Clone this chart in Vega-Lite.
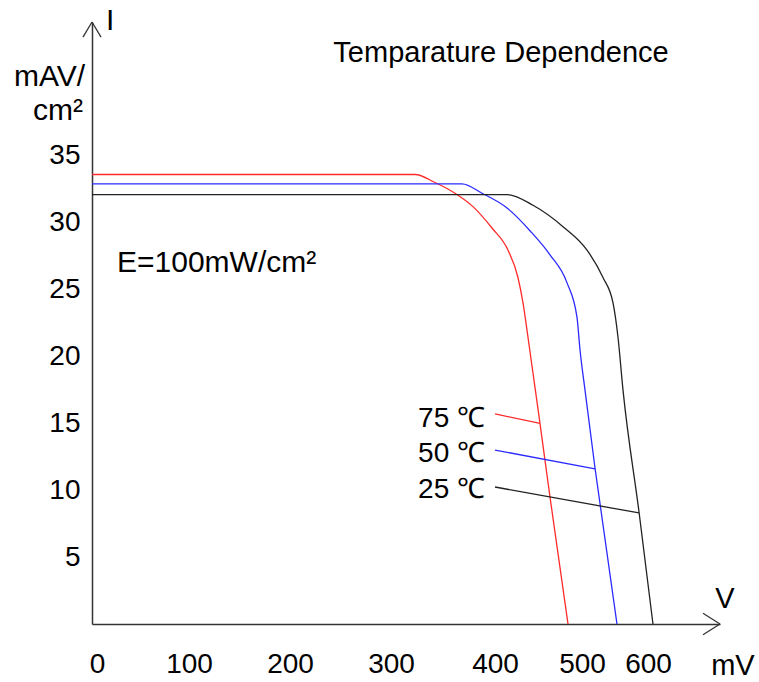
{
  "$schema": "https://vega.github.io/schema/vega-lite/v6.json",
  "width": 628,
  "height": 602,
  "autosize": {"type": "none"},
  "padding": {"left": 92, "top": 22, "right": 39, "bottom": 58},
  "background": "white",
  "config": {"view": {"stroke": null}, "font": "Liberation Sans"},
  "datasets": {
    "curves": [
      {"t": "75", "v": 0, "i": 33.6},
      {"t": "75", "v": 323.1, "i": 33.6},
      {"t": "75", "v": 342.3, "i": 33.0},
      {"t": "75", "v": 361.5, "i": 32.2},
      {"t": "75", "v": 378.8, "i": 31.2},
      {"t": "75", "v": 397.1, "i": 29.6},
      {"t": "75", "v": 414.9, "i": 27.95},
      {"t": "75", "v": 426.4, "i": 25.9},
      {"t": "75", "v": 432.2, "i": 24.0},
      {"t": "75", "v": 437.9, "i": 21.45},
      {"t": "75", "v": 451.7, "i": 15.0},
      {"t": "75", "v": 463.2, "i": 9.5},
      {"t": "75", "v": 483.9, "i": 0},
      {"t": "50", "v": 0, "i": 32.9},
      {"t": "50", "v": 368.3, "i": 32.9},
      {"t": "50", "v": 387.5, "i": 32.2},
      {"t": "50", "v": 413.8, "i": 31.1},
      {"t": "50", "v": 440.2, "i": 29.4},
      {"t": "50", "v": 463.2, "i": 27.6},
      {"t": "50", "v": 482.8, "i": 25.5},
      {"t": "50", "v": 494.3, "i": 22.9},
      {"t": "50", "v": 497.7, "i": 20.5},
      {"t": "50", "v": 504.5, "i": 17.5},
      {"t": "50", "v": 519.7, "i": 11.66},
      {"t": "50", "v": 553.0, "i": 0},
      {"t": "25", "v": 0, "i": 32.1},
      {"t": "25", "v": 413.8, "i": 32.1},
      {"t": "25", "v": 443.7, "i": 31.3},
      {"t": "25", "v": 478.2, "i": 29.7},
      {"t": "25", "v": 507.6, "i": 27.95},
      {"t": "25", "v": 531.8, "i": 25.9},
      {"t": "25", "v": 547.0, "i": 24.0},
      {"t": "25", "v": 554.5, "i": 21.45},
      {"t": "25", "v": 562.1, "i": 17.5},
      {"t": "25", "v": 586.4, "i": 8.37},
      {"t": "25", "v": 606.9, "i": 0}
    ],
    "leaders": [
      {"t": "75", "v": 400, "i": 15.7, "v2": 451.7, "i2": 15.0},
      {"t": "50", "v": 400, "i": 13.0, "v2": 519.7, "i2": 11.6},
      {"t": "25", "v": 400, "i": 10.24, "v2": 586.4, "i2": 8.3}
    ],
    "serieslabels": [
      {"t": "75", "v": 390.4, "i": 14.75, "label": "75 ℃"},
      {"t": "50", "v": 390.4, "i": 12.13, "label": "50 ℃"},
      {"t": "25", "v": 390.4, "i": 9.39, "label": "25 ℃"}
    ],
    "arrows": [
      {"v": 676.4, "i": 0.8, "v2": 700, "i2": 0},
      {"v": 676.4, "i": -0.8, "v2": 700, "i2": 0},
      {"v": -9.3, "i": 43.87, "v2": 0, "i2": 45},
      {"v": 9.3, "i": 43.87, "v2": 0, "i2": 45}
    ],
    "textleft": [
      {"v": 25.8, "i": 26.33, "label": "E=100mW/cm²"},
      {"v": 14.4, "i": 44.4, "label": "I"}
    ],
    "textcenter": [
      {"v": 406.9, "i": 42.03, "label": "Temparature Dependence"},
      {"v": 707, "i": 1.2, "label": "V"},
      {"v": 718, "i": -3.81, "label": "mV"}
    ],
    "textright": [
      {"v": -7.2, "i": 40.2, "label": "mAV/"},
      {"v": -9.3, "i": 37.67, "label": "cm²"}
    ]
  },
  "layer": [
    {
      "data": {"name": "curves"},
      "mark": {"type": "line", "strokeWidth": 1.3, "interpolate": "monotone"},
      "encoding": {
        "x": {
          "field": "v", "type": "quantitative",
          "scale": {"domain": [0, 100, 200, 300, 400, 500, 600, 700], "range": [0, 97, 198, 299, 403, 490, 556, 628], "nice": false, "zero": false},
          "axis": {
            "title": null, "values": [0, 100, 200, 300, 400, 500, 600],
            "ticks": false, "tickSize": 0, "grid": false,
            "labelFont": "Liberation Sans", "labelFontSize": 28, "labelColor": "#000",
            "labelPadding": 40, "labelBaseline": "middle", "labelAlign": "center",
            "labelOffset": {"condition": {"test": "datum.value === 0", "value": 5}, "value": 0},
            "labelFlush": false, "labelOverlap": false, "labelBound": false,
            "domainColor": "#333", "domainWidth": 1.5
          }
        },
        "y": {
          "field": "i", "type": "quantitative",
          "scale": {"domain": [0, 45], "nice": false, "zero": false},
          "axis": {
            "title": null, "values": [5, 10, 15, 20, 25, 30, 35],
            "ticks": false, "tickSize": 0, "grid": false,
            "labelFont": "Liberation Sans", "labelFontSize": 28, "labelColor": "#000",
            "labelPadding": 12, "labelFlush": false, "labelOverlap": false, "labelBound": false,
            "domainColor": "#333", "domainWidth": 1.5
          }
        },
        "color": {
          "field": "t", "type": "nominal",
          "scale": {"domain": ["75", "50", "25"], "range": ["#ff2a2a", "#2a2aff", "#222222"]},
          "legend": null
        }
      }
    },
    {
      "data": {"name": "leaders"},
      "mark": {"type": "rule", "strokeWidth": 1.3},
      "encoding": {
        "x": {"field": "v", "type": "quantitative"},
        "y": {"field": "i", "type": "quantitative"},
        "x2": {"field": "v2"},
        "y2": {"field": "i2"},
        "color": {"field": "t", "type": "nominal", "legend": null}
      }
    },
    {
      "data": {"name": "arrows"},
      "mark": {"type": "rule", "strokeWidth": 1.3, "color": "#333"},
      "encoding": {
        "x": {"field": "v", "type": "quantitative"},
        "y": {"field": "i", "type": "quantitative"},
        "x2": {"field": "v2"},
        "y2": {"field": "i2"}
      }
    },
    {
      "data": {"name": "serieslabels"},
      "mark": {"type": "text", "align": "right", "baseline": "alphabetic", "fontSize": 28, "color": "#000", "font": "Liberation Sans"},
      "encoding": {
        "x": {"field": "v", "type": "quantitative"},
        "y": {"field": "i", "type": "quantitative"},
        "text": {"field": "label"}
      }
    },
    {
      "data": {"name": "textleft"},
      "mark": {"type": "text", "align": "left", "baseline": "alphabetic", "fontSize": 30, "color": "#000", "font": "Liberation Sans"},
      "encoding": {
        "x": {"field": "v", "type": "quantitative"},
        "y": {"field": "i", "type": "quantitative"},
        "text": {"field": "label"}
      }
    },
    {
      "data": {"name": "textcenter"},
      "mark": {"type": "text", "align": "center", "baseline": "alphabetic", "fontSize": 29, "color": "#000", "font": "Liberation Sans"},
      "encoding": {
        "x": {"field": "v", "type": "quantitative"},
        "y": {"field": "i", "type": "quantitative"},
        "text": {"field": "label"}
      }
    },
    {
      "data": {"name": "textright"},
      "mark": {"type": "text", "align": "right", "baseline": "alphabetic", "fontSize": 30, "color": "#000", "font": "Liberation Sans"},
      "encoding": {
        "x": {"field": "v", "type": "quantitative"},
        "y": {"field": "i", "type": "quantitative"},
        "text": {"field": "label"}
      }
    }
  ]
}
